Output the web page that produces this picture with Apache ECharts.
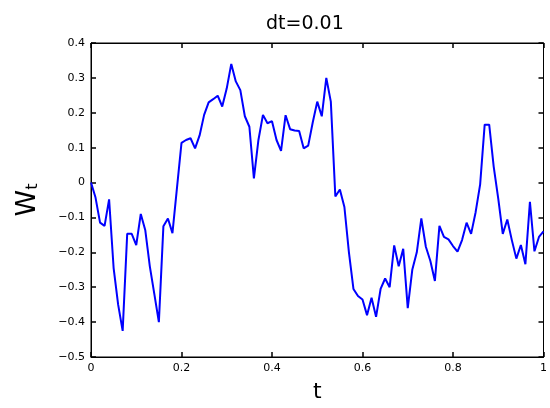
<!DOCTYPE html>
<html>
<head>
<meta charset="utf-8">
<script src="https://cdn.jsdelivr.net/npm/echarts@6/dist/echarts.min.js"></script>
<style>
  html, body { margin: 0; padding: 0; background: #fff; }
  #chart { width: 550px; height: 408px; }
</style>
</head>
<body>
<div id="chart"></div>
<script>
// Sample path of a Wiener process W_t on [0, 1], step size dt
const dt = 0.01;
const pathW = [
  0, -0.043, -0.115, -0.124, -0.048, -0.245, -0.35, -0.425, -0.147, -0.147,
  -0.179, -0.09, -0.137, -0.24, -0.32, -0.40, -0.125, -0.103, -0.145, -0.015,
  0.114, 0.122, 0.127, 0.098, 0.135, 0.194, 0.23, 0.239, 0.249, 0.218,
  0.27, 0.34, 0.29, 0.265, 0.19, 0.16, 0.012, 0.122, 0.194, 0.17,
  0.176, 0.122, 0.091, 0.193, 0.153, 0.149, 0.148, 0.098, 0.106, 0.172,
  0.232, 0.19, 0.30, 0.232, -0.04, -0.02, -0.07, -0.20, -0.305, -0.325,
  -0.335, -0.38, -0.33, -0.385, -0.305, -0.275, -0.30, -0.18, -0.24, -0.19,
  -0.36, -0.25, -0.20, -0.103, -0.184, -0.225, -0.282, -0.124, -0.156, -0.163,
  -0.182, -0.198, -0.165, -0.115, -0.147, -0.085, -0.005, 0.166, 0.166, 0.045,
  -0.046, -0.147, -0.106, -0.165, -0.218, -0.179, -0.234, -0.055, -0.197, -0.156,
  -0.14
];
const xTickLabels = ['0', '0.2', '0.4', '0.6', '0.8', '1'];
const yTickLabels = ['\u22120.5', '\u22120.4', '\u22120.3', '\u22120.2', '\u22120.1', '0', '0.1', '0.2', '0.3', '0.4'];

const FONT = 'DejaVu Sans';
const seriesData = pathW.map((w, i) => [i * dt, w]);

function boxLine() {
  return { show: true, onZero: false, lineStyle: { color: '#000', width: 1 } };
}
function tickIn() {
  return { show: true, inside: true, length: 5, lineStyle: { color: '#000', width: 1.5 } };
}

const chart = echarts.init(document.getElementById('chart'), null, { renderer: 'canvas' });
chart.setOption({
  animation: false,
  backgroundColor: '#fff',
  title: {
    text: 'dt=0.01',
    left: 261,
    top: 10,
    textStyle: { fontFamily: FONT, fontSize: 19, fontWeight: 'normal', color: '#000' }
  },
  grid: {
    left: 91, right: 2, top: 43, bottom: 38, containLabel: false,
    show: true, borderColor: '#000', borderWidth: 1, backgroundColor: 'transparent'
  },
  xAxis: [
    {
      type: 'value', min: 0, max: 1, interval: 0.2, position: 'bottom',
      name: 't', nameLocation: 'middle', nameGap: 24,
      nameTextStyle: { fontFamily: FONT, fontSize: 22, color: '#000' },
      axisLine: boxLine(), axisTick: tickIn(), splitLine: { show: false },
      axisLabel: {
        margin: 6, fontFamily: FONT, fontSize: 11, color: '#000',
        formatter: (v) => xTickLabels[Math.round(v / 0.2)]
      }
    },
    {
      type: 'value', min: 0, max: 1, interval: 0.2, position: 'top',
      axisLine: boxLine(), axisTick: tickIn(), splitLine: { show: false },
      axisLabel: { show: false }
    }
  ],
  yAxis: [
    {
      type: 'value', min: -0.5, max: 0.4, interval: 0.1, position: 'left',
      name: '{w|W}{s|t}', nameLocation: 'middle', nameGap: 50, nameRotate: 90,
      nameTextStyle: {
        rich: {
          w: { fontFamily: FONT, fontSize: 27, color: '#000', lineHeight: 30, verticalAlign: 'bottom' },
          s: { fontFamily: FONT, fontSize: 16, color: '#000', lineHeight: 30, verticalAlign: 'bottom', padding: [8, 0, 0, 0] }
        }
      },
      axisLine: boxLine(), axisTick: tickIn(), splitLine: { show: false },
      axisLabel: {
        margin: 6, fontFamily: FONT, fontSize: 11, color: '#000',
        formatter: (v) => yTickLabels[Math.round((v + 0.5) / 0.1)]
      }
    },
    {
      type: 'value', min: -0.5, max: 0.4, interval: 0.1, position: 'right',
      axisLine: boxLine(), axisTick: tickIn(), splitLine: { show: false },
      axisLabel: { show: false }
    }
  ],
  series: [
    {
      type: 'line',
      data: seriesData,
      xAxisIndex: 0,
      yAxisIndex: 0,
      showSymbol: false,
      smooth: false,
      lineStyle: { color: '#0000ff', width: 2 }
    },
    {
      // binds the top and right axes so their ticks are drawn
      type: 'line',
      data: [],
      xAxisIndex: 1,
      yAxisIndex: 1,
      showSymbol: false
    }
  ]
});
</script>
</body>
</html>
